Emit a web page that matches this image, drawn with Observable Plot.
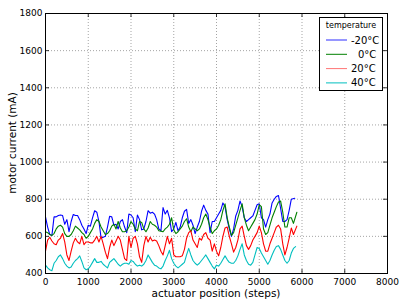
<!DOCTYPE html>
<html>
<head>
<meta charset="utf-8">
<script src="https://cdn.jsdelivr.net/npm/d3@7"></script>
<script src="https://cdn.jsdelivr.net/npm/@observablehq/plot@0.6"></script>
<style>
  html, body { margin: 0; padding: 0; background: #fff; }
  #chart svg { display: block; font-family: "DejaVu Sans", sans-serif; }
</style>
</head>
<body>
<div id="chart"></div>
<script>
// ---- data ----
const steps = [0,50,100,150,200,250,300,350,400,450,500,550,600,650,700,750,800,850,900,950,
  1000,1050,1100,1150,1200,1250,1300,1350,1400,1450,1500,1550,1600,1650,1700,1750,1800,1850,1900,1950,
  2000,2050,2100,2150,2200,2250,2300,2350,2400,2450,2500,2550,2600,2650,2700,2750,2800,2850,2900,2950,
  3000,3050,3100,3150,3200,3250,3300,3350,3400,3450,3500,3550,3600,3650,3700,3750,3800,3850,3900,3950,
  4000,4050,4100,4150,4200,4250,4300,4350,4400,4450,4500,4550,4600,4650,4700,4750,4800,4850,4900,4950,
  5000,5050,5100,5150,5200,5250,5300,5350,5400,5450,5500,5550,5600,5650,5700,5750,5800];

const minus20 = [705,650,610,605,705,705,712,715,712,665,690,625,680,718,712,712,690,660,640,615,
  660,655,700,738,730,680,592,595,600,650,708,705,660,665,640,680,690,650,620,720,
  715,700,625,715,690,635,640,680,738,725,730,720,690,640,630,755,720,740,700,625,
  640,675,630,650,700,735,745,670,690,660,615,650,680,735,768,740,720,620,680,680,
  700,720,740,780,760,690,640,600,640,710,740,790,760,700,680,690,700,710,740,770,
  775,700,690,650,690,720,780,800,815,820,750,680,680,690,740,800];
const zero = [625,620,610,605,615,640,655,660,650,615,600,600,610,630,655,645,635,620,610,590,
  600,620,640,670,690,680,650,630,610,615,630,655,665,640,680,645,625,625,630,650,
  680,665,640,630,680,675,640,625,645,680,665,660,650,630,628,625,640,650,665,700,
  635,615,625,640,655,680,695,650,625,650,640,630,640,665,700,720,690,650,615,630,
  640,660,690,740,775,700,650,605,620,660,700,740,775,700,660,630,650,670,690,720,
  770,760,640,610,620,660,700,730,760,785,790,730,650,650,700,700,670];
const plus20 = [520,580,595,575,560,555,580,590,615,570,500,470,520,565,590,570,560,600,555,570,
  570,565,565,580,600,570,600,560,515,480,540,580,550,575,600,580,530,480,470,600,
  540,590,600,560,490,460,550,600,570,595,575,580,575,550,520,500,550,600,560,590,
  500,490,490,490,495,530,590,620,630,580,560,540,590,580,610,620,590,580,520,560,
  520,495,540,600,645,650,600,560,515,540,580,640,655,600,550,530,550,580,600,620,
  655,620,560,520,520,560,590,620,650,660,640,560,500,540,590,645,610];
const plus40 = [445,430,420,415,455,470,490,500,480,455,440,430,435,455,470,480,495,465,430,420,
  425,440,460,480,460,460,465,450,440,430,460,470,480,465,450,440,450,455,455,450,
  470,465,450,440,445,440,450,470,500,480,460,445,440,430,425,440,470,495,525,480,
  455,440,430,440,450,460,500,535,500,470,455,445,455,470,485,500,480,460,440,425,
  445,440,455,475,495,475,460,455,455,470,495,530,560,500,470,450,445,460,500,540,
  535,510,490,470,450,470,500,525,545,550,530,500,470,455,470,510,535];
// last sample of each series (series end at slightly different positions)
const endSteps  = [5830, 5880, 5880, 5850];
const endValues = [805, 730, 655, 545];

const labels = ["-20°C", "0°C", "20°C", "40°C"];
const colors = ["#0000ff", "#008000", "#ff0000", "#00bfbf"];
const xTicks = [0,1000,2000,3000,4000,5000,6000,7000,8000];
const yTicks = [400,600,800,1000,1200,1400,1600,1800];

const seriesValues = [minus20, zero, plus20, plus40];
const rows = [];
seriesValues.forEach((vals, k) => {
  vals.forEach((v, i) => rows.push({x: steps[i], y: v, s: labels[k]}));
  rows.push({x: endSteps[k], y: endValues[k], s: labels[k]});
});

const W = 407, H = 307;
const mL = 45, mR = 20, mT = 13, mB = 34;
const tickLen = 4;
const pxPerX = (W - mL - mR) / 8000;
const pxPerY = (H - mT - mB) / 1400;
const dX = tickLen / pxPerX, dY = tickLen / pxPerY;
const fmt = d => String(d);

const chart = Plot.plot({
  width: W, height: H,
  marginLeft: mL, marginRight: mR, marginTop: mT, marginBottom: mB,
  style: {fontFamily: "DejaVu Sans, sans-serif", fontSize: "9px", background: "#fff", overflow: "visible"},
  x: {domain: [0, 8000]},
  y: {domain: [400, 1800]},
  marks: [
    Plot.ruleX(xTicks.slice(1, -1), {stroke: "#000", strokeOpacity: 0.6, strokeWidth: 0.6, strokeDasharray: "1,2"}),
    Plot.ruleY(yTicks.slice(1, -1), {stroke: "#000", strokeOpacity: 0.6, strokeWidth: 0.6, strokeDasharray: "1,2"}),
    ...labels.map((lab, k) => Plot.line(rows.filter(r => r.s === lab), {x: "x", y: "y", stroke: colors[k], strokeWidth: 1.1})),
    // inward ticks on all four sides
    Plot.ruleX(xTicks, {y1: 400, y2: 400 + dY, stroke: "#000", strokeWidth: 0.8}),
    Plot.ruleX(xTicks, {y1: 1800, y2: 1800 - dY, stroke: "#000", strokeWidth: 0.8}),
    Plot.ruleY(yTicks, {x1: 0, x2: dX, stroke: "#000", strokeWidth: 0.8}),
    Plot.ruleY(yTicks, {x1: 8000, x2: 8000 - dX, stroke: "#000", strokeWidth: 0.8}),
    Plot.axisX(xTicks, {tickSize: 0, tickPadding: 5, fontSize: 9, label: null, tickFormat: fmt}),
    Plot.axisY(yTicks, {tickSize: 0, tickPadding: 3, fontSize: 9, label: null, tickFormat: fmt}),
    Plot.frame({stroke: "#000", strokeWidth: 1})
  ]
});

const svg = d3.select(chart);
// axis labels
svg.append("text").attr("x", mL + (W - mL - mR) / 2).attr("y", 297)
  .attr("text-anchor", "middle").attr("font-size", 10.5).attr("fill", "#000")
  .text("actuator position (steps)");
svg.append("text").attr("transform", `translate(16,${mT + (H - mT - mB) / 2}) rotate(-90)`)
  .attr("text-anchor", "middle").attr("font-size", 10.5).attr("fill", "#000")
  .text("motor current (mA)");

// legend
const lg = svg.append("g");
lg.append("rect").attr("x", 319.5).attr("y", 17.5).attr("width", 63).attr("height", 73)
  .attr("fill", "#fff").attr("stroke", "#000").attr("stroke-width", 1);
lg.append("text").attr("x", 351).attr("y", 28).attr("text-anchor", "middle")
  .attr("font-size", 8).attr("fill", "#000").text("temperature");
const labelX = [351, 358, 351, 351];
labels.forEach((lab, k) => {
  const yy = 40 + k * 14.3;
  lg.append("line").attr("x1", 326).attr("x2", 347).attr("y1", yy).attr("y2", yy)
    .attr("stroke", colors[k]).attr("stroke-width", k === 0 ? 1.5 : 1).attr("stroke-opacity", k === 0 || k === 2 ? 0.55 : 1);
  lg.append("text").attr("x", labelX[k]).attr("y", yy + 3.5).attr("text-anchor", "start")
    .attr("font-size", 10).attr("fill", "#000").text(lab);
});

document.getElementById("chart").appendChild(chart);
</script>
</body>
</html>
